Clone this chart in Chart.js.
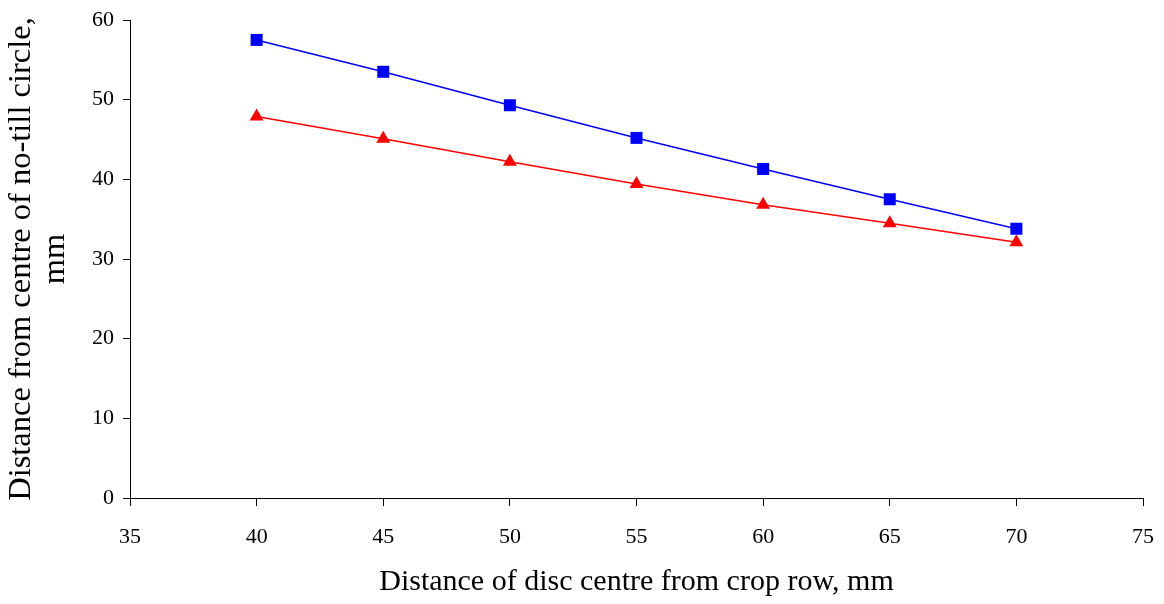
<!DOCTYPE html>
<html>
<head>
<meta charset="utf-8">
<script src="https://cdn.jsdelivr.net/npm/chart.js@4.4.1/dist/chart.umd.min.js"></script>
<style>
html,body{margin:0;padding:0;background:#fff;}
#wrap{width:1164px;height:604px;}
</style>
</head>
<body>
<div id="wrap"><canvas id="c" width="1164" height="604"></canvas></div>
<script>
const xValues = [40, 45, 50, 55, 60, 65, 70];
const blueSeries = [57.5, 53.5, 49.3, 45.2, 41.3, 37.5, 33.8];
const redSeries = [47.9, 45.1, 42.2, 39.4, 36.8, 34.5, 32.1];
const xTitle = 'Distance of disc centre from crop row, mm';
const yTitle = ['Distance from centre of no-till circle,', 'mm'];

const toPts = (ys) => xValues.map((x, i) => ({x: x, y: ys[i]}));
const font = 'Liberation Serif';

new Chart(document.getElementById('c'), {
  type: 'line',
  data: {
    datasets: [
      {
        data: toPts(blueSeries),
        borderColor: '#0000FF',
        backgroundColor: '#0000FF',
        borderWidth: 1.5,
        pointStyle: 'rect',
        pointRadius: 8.5,
        pointHoverRadius: 8.5,
        pointBorderWidth: 0,
        tension: 0
      },
      {
        data: toPts(redSeries),
        borderColor: '#FF0000',
        backgroundColor: '#FF0000',
        borderWidth: 1.5,
        pointStyle: 'triangle',
        pointRadius: 8,
        pointHoverRadius: 8,
        pointBorderWidth: 0,
        tension: 0
      }
    ]
  },
  options: {
    responsive: false,
    animation: false,
    layout: {padding: {left: 0, right: 21, top: 20, bottom: 0}},
    plugins: {legend: {display: false}, tooltip: {enabled: false}},
    scales: {
      x: {
        type: 'linear',
        min: 35, max: 75,
        afterFit: (s) => { s.height = 106; s.paddingRight = 0; s.paddingLeft = 0; },
        ticks: {stepSize: 5, color: '#000', font: {family: font, size: 22}, padding: 18, maxRotation: 0},
        grid: {display: true, drawOnChartArea: false, drawTicks: true, tickLength: 8, color: '#000', lineWidth: 1},
        border: {display: true, color: '#000', width: 1},
        title: {display: true, text: xTitle, color: '#000', font: {family: font, size: 30, lineHeight: 1.2}, padding: {top: 0, bottom: 4}}
      },
      y: {
        min: 0, max: 60,
        afterFit: (s) => { s.width = 130; s.paddingTop = 0; s.paddingBottom = 0; },
        ticks: {stepSize: 10, color: '#000', font: {family: font, size: 22}, padding: 9},
        grid: {display: true, drawOnChartArea: false, drawTicks: true, tickLength: 7, color: '#000', lineWidth: 1},
        border: {display: true, color: '#000', width: 1},
        title: {display: true, text: yTitle, color: '#000', font: {family: font, size: 32.5, lineHeight: 1.06}, padding: {top: 4, bottom: 0}}
      }
    }
  }
});
</script>
</body>
</html>
